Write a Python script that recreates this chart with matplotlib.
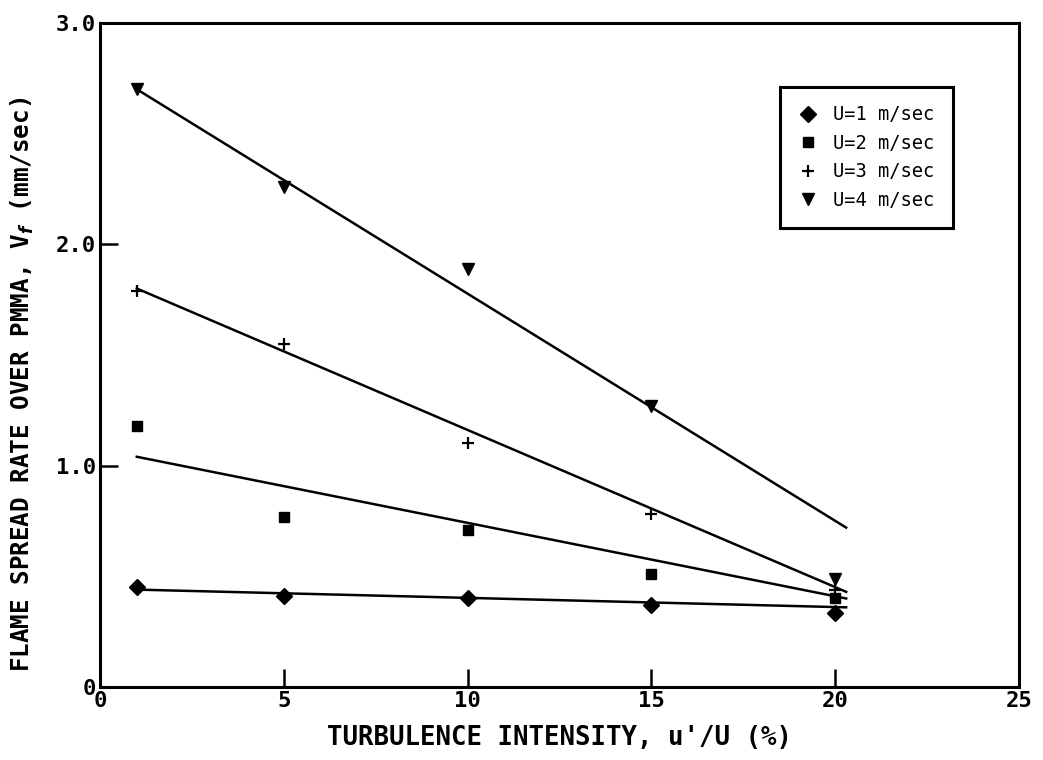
import matplotlib.pyplot as plt

# Data
intensity = [1, 5, 10, 15, 20]

v_u1 = [0.45, 0.41, 0.40, 0.37, 0.335]
v_u2 = [1.18, 0.77, 0.71, 0.51, 0.40]
v_u3 = [1.79, 1.55, 1.10, 0.78, 0.44]
v_u4 = [2.70, 2.26, 1.89, 1.27, 0.49]

# fitted lines (endpoints)
fit_x = [1, 20.3]
fit_u1 = [0.44, 0.36]
fit_u2 = [1.04, 0.40]
fit_u3 = [1.80, 0.43]
fit_u4 = [2.70, 0.72]

labels = ['U=1 m/sec', 'U=2 m/sec', 'U=3 m/sec', 'U=4 m/sec']
markers = ['D', 's', '+', 'v']
sizes = [8, 7, 9, 8]

plt.rcParams['font.family'] = 'DejaVu Sans Mono'
plt.rcParams['font.weight'] = 'bold'

fig = plt.figure(figsize=(10.43, 7.60), dpi=100)
ax = fig.add_axes([0.0959, 0.096, 0.881, 0.874])

series = [v_u1, v_u2, v_u3, v_u4]
fits = [fit_u1, fit_u2, fit_u3, fit_u4]
for vals, fit, lab, m, s in zip(series, fits, labels, markers, sizes):
    ax.plot(intensity, vals, linestyle='none', marker=m, markersize=s,
            color='black', markeredgewidth=1.6 if m == '+' else 1, label=lab)
    ax.plot(fit_x, fit, color='black', linewidth=1.8)

ax.set_xlim(0, 25)
ax.set_ylim(0, 3.0)
ax.set_xticks([0, 5, 10, 15, 20, 25])
ax.set_xticklabels(['0', '5', '10', '15', '20', '25'])
ax.set_yticks([0, 1.0, 2.0, 3.0])
ax.set_yticklabels(['0', '1.0', '2.0', '3.0'])
ax.tick_params(direction='in', length=13, width=1.8, labelsize=16, pad=3)

for sp in ax.spines.values():
    sp.set_linewidth(2.2)

ax.set_xlabel("TURBULENCE INTENSITY, u'/U (%)", fontsize=18.5, fontweight='bold', labelpad=10)
ax.set_ylabel("FLAME SPREAD RATE OVER PMMA, V$_f$ (mm/sec)", fontsize=17.5, fontweight='bold')
ax.yaxis.set_label_coords(-0.07, 0.455)

leg = ax.legend(loc='upper left', bbox_to_anchor=(0.73, 0.918), frameon=True,
                fancybox=False, edgecolor='black', handletextpad=0.8,
                borderpad=1.0, labelspacing=0.5, handlelength=1.0,
                prop={'family': 'DejaVu Sans Mono', 'size': 13.5, 'weight': 'normal'})
leg.get_frame().set_linewidth(2.2)
leg.get_frame().set_alpha(1)

plt.savefig('out.png', dpi=100)
